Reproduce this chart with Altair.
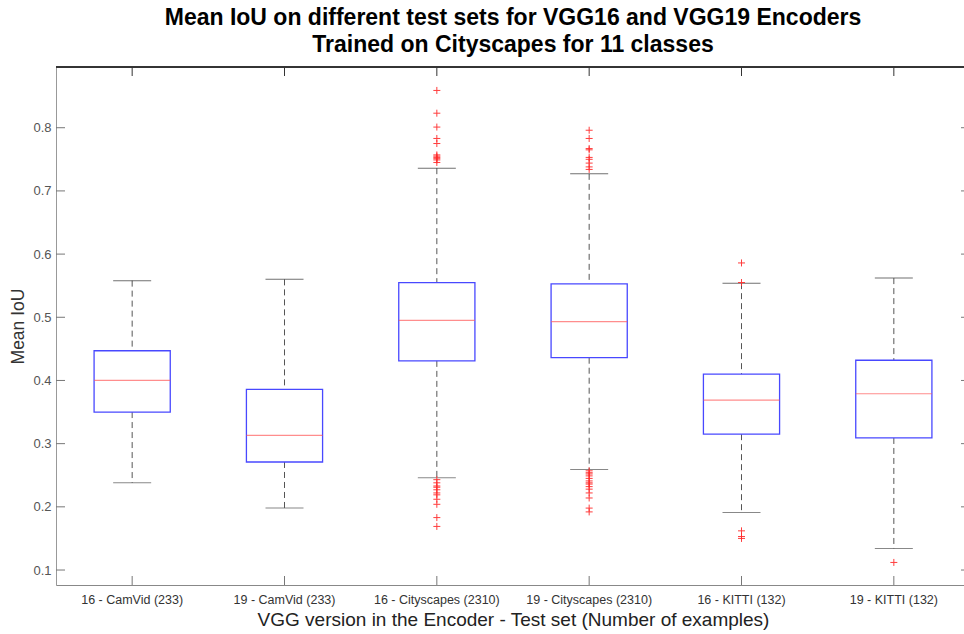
import altair as alt
import pandas as pd

# Test sets (VGG encoder version - dataset (number of examples))
categories = [
    "16 - CamVid (233)",
    "19 - CamVid (233)",
    "16 - Cityscapes (2310)",
    "19 - Cityscapes (2310)",
    "16 - KITTI (132)",
    "19 - KITTI (132)",
]

# Box-plot statistics of the per-image mean IoU
whisker_low = [0.238, 0.198, 0.246, 0.259, 0.191, 0.134]
q1 = [0.350, 0.271, 0.431, 0.436, 0.315, 0.309]
median = [0.400, 0.313, 0.495, 0.493, 0.369, 0.379]
q3 = [0.447, 0.386, 0.555, 0.553, 0.410, 0.432]
whisker_high = [0.558, 0.560, 0.736, 0.727, 0.554, 0.562]

# Outliers per test set
outliers_16_camvid = []
outliers_19_camvid = []
outliers_16_city = [0.859, 0.823, 0.801, 0.783, 0.775, 0.757, 0.755, 0.753, 0.751, 0.749, 0.745,
                    0.243, 0.238, 0.233, 0.231, 0.227, 0.222, 0.219, 0.212, 0.204, 0.183, 0.169]
outliers_19_city = [0.796, 0.783, 0.767, 0.765, 0.753, 0.750, 0.744, 0.738, 0.734,
                    0.257, 0.254, 0.252, 0.249, 0.245, 0.241, 0.238, 0.236, 0.232, 0.228,
                    0.222, 0.214, 0.198, 0.192]
outliers_16_kitti = [0.586, 0.555, 0.162, 0.153, 0.150]
outliers_19_kitti = [0.112]

y_ticks = [0.1, 0.2, 0.3, 0.4, 0.5, 0.6, 0.7, 0.8]

boxes = pd.DataFrame({
    "set": categories,
    "lo": whisker_low,
    "q1": q1,
    "med": median,
    "q3": q3,
    "hi": whisker_high,
})

outlier_lists = [outliers_16_camvid, outliers_19_camvid, outliers_16_city,
                 outliers_19_city, outliers_16_kitti, outliers_19_kitti]
outliers = pd.DataFrame(
    [(cat, v) for cat, vals in zip(categories, outlier_lists) for v in vals],
    columns=["set", "iou"],
)
ticks_df = pd.DataFrame({"v": y_ticks})
cats_df = pd.DataFrame({"set": categories})

W, H = 908, 518
BAND_RANGE = 914  # axes run slightly past the right edge of the figure
FONT = "Liberation Sans"

x_scale = alt.Scale(domain=categories, range=[0, BAND_RANGE], paddingInner=0, paddingOuter=0)
y_scale = alt.Scale(domain=[0.0763, 0.8961], nice=False, zero=False)

x_axis = alt.Axis(
    title="VGG version in the Encoder - Test set (Number of examples)",
    titleFont=FONT, titleFontSize=19, titleFontWeight="normal", titleColor="#222",
    titlePadding=5,
    labelFont=FONT, labelFontSize=12.5, labelColor="#333", labelAngle=0,
    labelAlign="center", labelBaseline="top",
    labelPadding=8, ticks=False, domainColor="#888", domainWidth=1, grid=False,
)
y_axis = alt.Axis(
    title="Mean IoU",
    titleFont=FONT, titleFontSize=17.5, titleFontWeight="normal", titleColor="#333",
    titlePadding=5,
    values=y_ticks, format=".1f",
    labelFont=FONT, labelFontSize=13, labelColor="#555",
    labelPadding=5, ticks=False, domainColor="#999", domainWidth=1, grid=False,
)


def xe():
    return alt.X("set:N", scale=x_scale, sort=categories, axis=x_axis)


def ye(field):
    return alt.Y(field, scale=y_scale, axis=y_axis)


base = alt.Chart(boxes)

whisker_up = base.mark_rule(color="#555", strokeWidth=1, strokeDash=[6, 4]).encode(
    x=xe(), y=ye("hi:Q"), y2="q3:Q"
)
whisker_dn = base.mark_rule(color="#555", strokeWidth=1, strokeDash=[6, 4]).encode(
    x=xe(), y=ye("q1:Q"), y2="lo:Q"
)
cap_up = base.mark_tick(color="#333", size=38, thickness=1).encode(x=xe(), y=ye("hi:Q"))
cap_dn = base.mark_tick(color="#555", size=38, thickness=1).encode(x=xe(), y=ye("lo:Q"))
box = base.mark_bar(
    width={"band": 0.5}, fill="white", fillOpacity=0, stroke="#4848ff", strokeWidth=1.3
).encode(x=xe(), y=ye("q1:Q"), y2="q3:Q")
med = base.mark_tick(color="#ff5c5c", size=76, thickness=1.2).encode(x=xe(), y=ye("med:Q"))

pts = alt.Chart(outliers).mark_point(
    shape="M-1,0L1,0M0,-1L0,1", size=49, filled=False, color="#ff2a2a", strokeWidth=1, opacity=0.9
).encode(x=xe(), y=ye("iou:Q"))

# inward tick marks on all four sides
tk_left = alt.Chart(ticks_df).mark_rule(color="#777").encode(
    y=ye("v:Q"), x=alt.value(0), x2=alt.value(9)
)
tk_right = alt.Chart(ticks_df).mark_rule(color="#777").encode(
    y=ye("v:Q"), x=alt.value(BAND_RANGE - 9), x2=alt.value(BAND_RANGE)
)
tk_bottom = alt.Chart(cats_df).mark_rule(color="#777").encode(
    x=xe(), y=alt.value(H), y2=alt.value(H - 9)
)
tk_top = alt.Chart(cats_df).mark_rule(color="#333").encode(
    x=xe(), y=alt.value(0), y2=alt.value(9)
)
top_line = alt.Chart(cats_df).mark_rule(color="#333", strokeWidth=1).encode(
    x=alt.value(0), x2=alt.value(BAND_RANGE), y=alt.value(0)
)

chart = alt.layer(
    whisker_up, whisker_dn, cap_up, cap_dn, box, med, pts,
    top_line, tk_left, tk_right, tk_bottom, tk_top,
).properties(
    width=W,
    height=H,
    padding={"left": 56, "top": 67, "right": 0, "bottom": 49},
    autosize=alt.AutoSizeParams(type="none"),
    title=alt.TitleParams(
        ["Mean IoU on different test sets for VGG16 and VGG19 Encoders",
         "Trained on Cityscapes for 11 classes"],
        font=FONT, fontSize=23, fontWeight="bold", color="#000",
        anchor="middle", frame="group", offset=10, lineHeight=27, dx=3,
    ),
).configure_view(stroke=None).configure(background="white")

chart.save("out.html", embed_options={"renderer": "svg", "actions": False})
